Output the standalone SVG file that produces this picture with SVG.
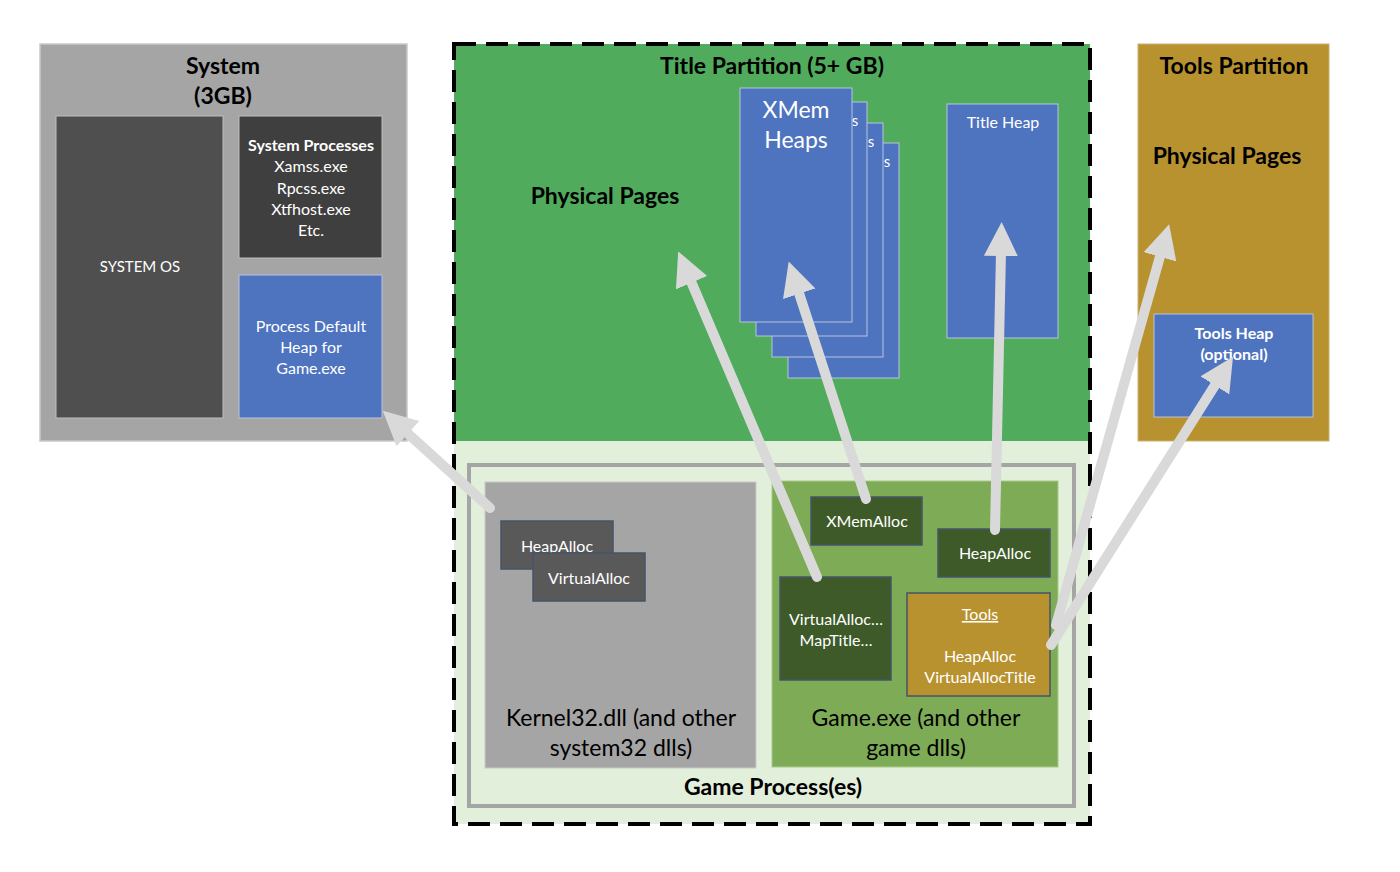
<svg xmlns="http://www.w3.org/2000/svg" width="1400" height="872" viewBox="0 0 1400 872">
<defs>
<style>
text{font-family:Lato,"Liberation Sans",sans-serif;text-anchor:middle}
.w{fill:#fff}
.k{fill:#000}
.b{font-weight:bold}
.blue{fill:#4e73bf;stroke:#b8c4de;stroke-width:1}
.dk{fill:#3e5a29;stroke:#44546a;stroke-width:1.5}
.gray2{fill:#595959;stroke:#44546a;stroke-width:1.5}
.conn line{stroke:#d9d9d9;stroke-width:10;stroke-linecap:round}
</style>
<marker id="ah" markerUnits="userSpaceOnUse" markerWidth="40" markerHeight="40" refX="4" refY="17" orient="auto">
<path d="M0,0 L34,17 L0,34 Z" fill="#d9d9d9"/>
</marker>
</defs>
<rect width="1400" height="872" fill="#fff"/>

<g id="system">
<rect x="40" y="44" width="367" height="397" fill="#a5a5a5" stroke="#c9c9c9" stroke-width="1.5"/>
<text x="223" y="74" font-size="23" class="k b">System</text>
<text x="223" y="104" font-size="23" class="k b">(3GB)</text>
</g>
<g id="system-os">
<rect x="56" y="116" width="167" height="302" fill="#4f4f4f" stroke="#bfbfbf" stroke-width="1"/>
<text x="140" y="272" font-size="15" class="w">SYSTEM OS</text>
</g>
<g id="system-processes">
<rect x="239" y="116" width="143" height="142" fill="#3f3f3f" stroke="#bfbfbf" stroke-width="1"/>
<text x="311" y="151" font-size="16" class="w b">System Processes</text>
<text x="311" y="172" font-size="16" class="w">Xamss.exe</text>
<text x="311" y="194" font-size="16" class="w">Rpcss.exe</text>
<text x="311" y="215" font-size="16" class="w">Xtfhost.exe</text>
<text x="311" y="236" font-size="16" class="w">Etc.</text>
</g>
<g id="process-default-heap">
<rect x="239" y="275" width="143" height="143" class="blue"/>
<text x="311" y="332" font-size="16" class="w">Process Default</text>
<text x="311" y="353" font-size="16" class="w">Heap for</text>
<text x="311" y="374" font-size="16" class="w">Game.exe</text>
</g>

<g id="title-partition">
<rect x="454" y="44" width="636" height="780" fill="#e2efda"/>
<rect x="454" y="44" width="636" height="397" fill="#50ac5c"/>
<rect x="454" y="44" width="636" height="780" fill="none" stroke="#000" stroke-width="4" stroke-dasharray="22,10"/>
<text x="772" y="74" font-size="23" class="k b">Title Partition (5+ GB)</text>
<text x="605" y="204" font-size="23" class="k b">Physical Pages</text>
</g>
<g id="xmem-heaps">
<rect x="788" y="143" width="111" height="235" class="blue"/>
<text x="887" y="167" font-size="15" class="w">s</text>
<rect x="772" y="123" width="111" height="234" class="blue"/>
<text x="871" y="147" font-size="15" class="w">s</text>
<rect x="756" y="102" width="111" height="234" class="blue"/>
<text x="855" y="126" font-size="15" class="w">s</text>
<rect x="740" y="88" width="112" height="234" class="blue"/>
<text x="796" y="118" font-size="23" class="w">XMem</text>
<text x="796" y="148" font-size="23" class="w">Heaps</text>
</g>
<g id="title-heap">
<rect x="947" y="104" width="111" height="234" class="blue"/>
<text x="1003" y="128" font-size="16" class="w">Title Heap</text>
</g>

<g id="tools-partition">
<rect x="1138" y="44" width="191" height="397" fill="#b8922f" stroke="#c9b27a" stroke-width="1"/>
<text x="1234" y="74" font-size="23" class="k b">Tools Partition</text>
<text x="1227" y="164" font-size="23" class="k b">Physical Pages</text>
</g>
<g id="tools-heap">
<rect x="1154" y="314" width="159" height="103" class="blue"/>
<text x="1234" y="339" font-size="16" class="w b">Tools Heap</text>
<text x="1234" y="360" font-size="16" class="w b">(optional)</text>
</g>

<g id="game-process">
<rect x="469" y="465" width="605" height="341" fill="none" stroke="#a5a5a5" stroke-width="4"/>
<text x="773" y="795" font-size="23" class="k b">Game Process(es)</text>
</g>
<g id="kernel32">
<rect x="485" y="482" width="271" height="286" fill="#a5a5a5" stroke="#c9c9c9" stroke-width="1"/>
<text x="621" y="726" font-size="23" class="k">Kernel32.dll (and other</text>
<text x="621" y="756" font-size="23" class="k">system32 dlls)</text>
</g>
<g id="k-heapalloc">
<rect x="501" y="521" width="112" height="48" class="gray2"/>
<text x="557" y="552" font-size="16" class="w">HeapAlloc</text>
</g>
<g id="k-virtualalloc">
<rect x="533" y="553" width="112" height="48" class="gray2"/>
<text x="589" y="584" font-size="16" class="w">VirtualAlloc</text>
</g>
<g id="game-exe">
<rect x="772" y="481" width="286" height="286" fill="#7eab55" stroke="#a9c98c" stroke-width="1"/>
<text x="916" y="726" font-size="23" class="k">Game.exe (and other</text>
<text x="916" y="756" font-size="23" class="k">game dlls)</text>
</g>
<g id="xmemalloc">
<rect x="811" y="497" width="111" height="48" class="dk"/>
<text x="867" y="527" font-size="16" class="w">XMemAlloc</text>
</g>
<g id="g-heapalloc">
<rect x="938" y="529" width="112" height="48" class="dk"/>
<text x="995" y="559" font-size="16" class="w">HeapAlloc</text>
</g>
<g id="g-virtualalloc">
<rect x="780" y="577" width="111" height="103" class="dk"/>
<text x="836" y="625" font-size="16" class="w">VirtualAlloc…</text>
<text x="836" y="646" font-size="16" class="w">MapTitle…</text>
</g>
<g id="g-tools">
<rect x="907" y="593" width="143" height="103" fill="#b8922f" stroke="#44546a" stroke-width="1.5"/>
<text x="980" y="620" font-size="16" class="w" text-decoration="underline">Tools</text>
<text x="980" y="662" font-size="16" class="w">HeapAlloc</text>
<text x="980" y="683" font-size="16" class="w">VirtualAllocTitle</text>
</g>

<g class="conn" id="connectors">
<line x1="490" y1="508" x2="405" y2="431" marker-end="url(#ah)"/>
<line x1="817" y1="577" x2="690" y2="279" marker-end="url(#ah)"/>
<line x1="866" y1="499" x2="798" y2="290" marker-end="url(#ah)"/>
<line x1="995" y1="530" x2="1001" y2="252" marker-end="url(#ah)"/>
<line x1="1056" y1="625" x2="1161" y2="253" marker-end="url(#ah)"/>
<line x1="1051" y1="645" x2="1217" y2="382" marker-end="url(#ah)"/>
</g>
</svg>
